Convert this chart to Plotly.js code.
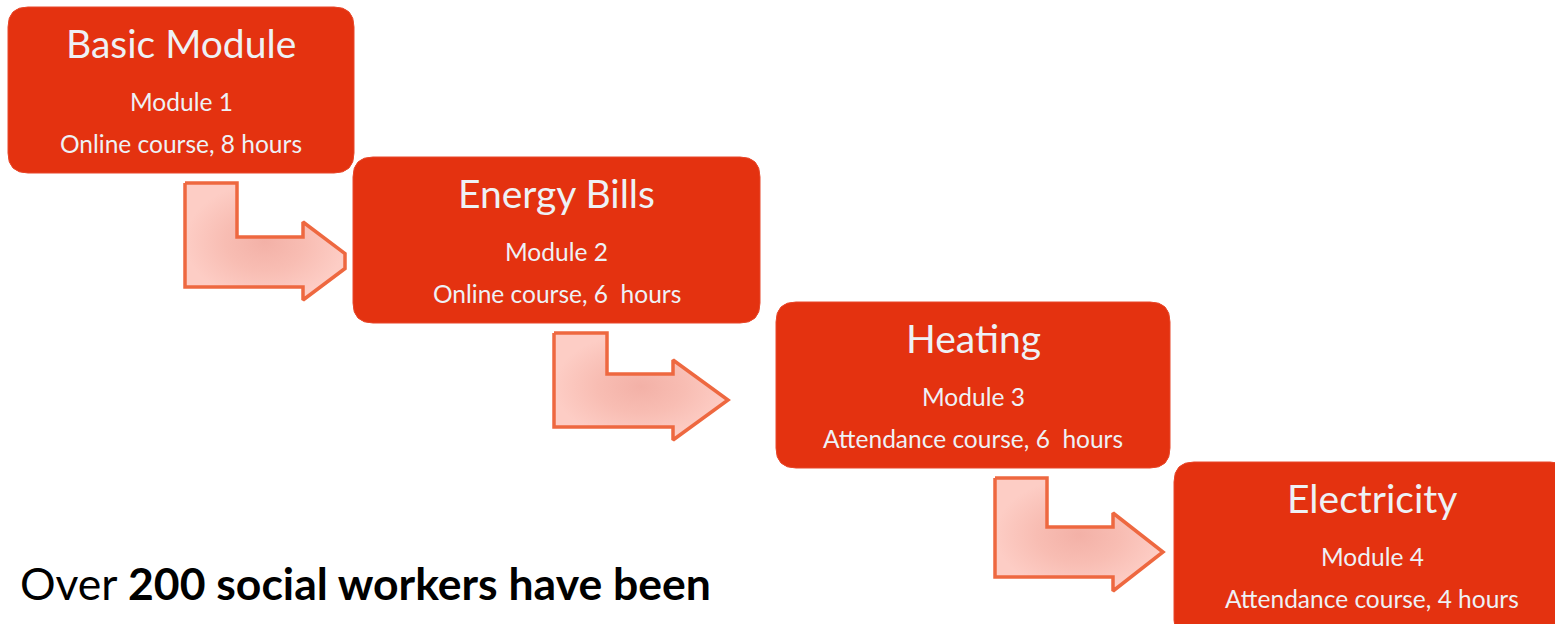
<!DOCTYPE html>
<html>
<head>
<meta charset="utf-8">
<script src="https://cdn.plot.ly/plotly-3.0.1.min.js"></script>
<style>html,body{margin:0;padding:0;background:#fff;overflow:hidden}#chart{width:1555px;height:624px}</style>
</head>
<body>
<div id="chart"></div>
<script>
// ---- content ----
const moduleTitles = ["Basic Module", "Energy Bills", "Heating", "Electricity"];
const moduleLabels = ["Module 1", "Module 2", "Module 3", "Module 4"];
const courseLabels = ["Online course, 8 hours", "Online course, 6  hours", "Attendance course, 6  hours", "Attendance course, 4 hours"];
const footerPlain = "Over ";
const footerBold = "200 social workers have been";

// ---- layout geometry (pixel space, y downward) ----
const W = 1555, H = 624;
const boxes = [
  {x0: 8,    y0: 7,   x1: 354,  y1: 173},
  {x0: 353,  y0: 157, x1: 760,  y1: 323},
  {x0: 776,  y0: 302, x1: 1170, y1: 468},
  {x0: 1174, y0: 462, x1: 1570, y1: 640}
];
const textOffsets = {title: 36, module: 94, course: 136};
const arrows = [
  [[185,183],[237,183],[237,237],[303,237],[303,222],[345,253.5],[345,268.5],[303,300],[303,287],[185,287]],
  [[554,333],[607,333],[607,374],[673,374],[673,360],[728,400],[673,440],[673,427],[554,427]],
  [[995,478],[1047,478],[1047,527],[1113,527],[1113,513],[1163,552],[1113,591],[1113,577],[995,577]]
];
const BOX_COLOR = "#e43210";
const TEXT_COLOR = "#eef1f5";
const FONT = "Lato, 'Open Sans', sans-serif";

function roundRect(b, r) {
  const {x0, y0, x1, y1} = b;
  return `M ${x0+r},${y0} L ${x1-r},${y0} Q ${x1},${y0} ${x1},${y0+r} L ${x1},${y1-r} Q ${x1},${y1} ${x1-r},${y1} ` +
         `L ${x0+r},${y1} Q ${x0},${y1} ${x0},${y1-r} L ${x0},${y0+r} Q ${x0},${y0} ${x0+r},${y0} Z`;
}

const traces = arrows.map(pts => {
  const xs = pts.map(p => p[0]); xs.push(pts[0][0]);
  const ys = pts.map(p => p[1]); ys.push(pts[0][1]);
  return {
    type: "scatter", mode: "lines", x: xs, y: ys,
    fill: "toself",
    fillgradient: {type: "radial", colorscale: [[0, "#f3b1a7"], [0.5, "#f8bdb3"], [1, "#fdcdc5"]]},
    line: {color: "#ee6840", width: 3.5},
    hoverinfo: "skip", showlegend: false
  };
});

const shapes = boxes.map(b => ({
  type: "path", xref: "x", yref: "y", path: roundRect(b, 20),
  fillcolor: BOX_COLOR, line: {color: "#e8472a", width: 1}, layer: "above"
}));

const annotations = [];
boxes.forEach((b, i) => {
  const cx = (b.x0 + b.x1) / 2;
  annotations.push({x: cx, y: b.y0 + textOffsets.title, text: moduleTitles[i], showarrow: false,
    xanchor: "center", yanchor: "middle", font: {family: FONT, size: 39, color: TEXT_COLOR}});
  annotations.push({x: cx, y: b.y0 + textOffsets.module, text: moduleLabels[i], showarrow: false,
    xanchor: "center", yanchor: "middle", font: {family: FONT, size: 24.5, color: TEXT_COLOR}});
  annotations.push({x: cx, y: b.y0 + textOffsets.course, text: courseLabels[i], showarrow: false,
    xanchor: "center", yanchor: "middle", font: {family: FONT, size: 24.5, color: TEXT_COLOR}});
});
annotations.push({x: 18, y: 582, text: footerPlain + "<b>" + footerBold + "</b>", showarrow: false,
  xanchor: "left", yanchor: "middle", font: {family: FONT, size: 44.5, color: "#000000"}});

const layout = {
  width: W, height: H,
  margin: {l: 0, r: 0, t: 0, b: 0, pad: 0},
  paper_bgcolor: "#ffffff", plot_bgcolor: "#ffffff",
  xaxis: {range: [0, W], visible: false, fixedrange: true},
  yaxis: {range: [H, 0], visible: false, fixedrange: true},
  shapes: shapes, annotations: annotations, showlegend: false
};

Plotly.newPlot("chart", traces, layout, {displayModeBar: false, staticPlot: true});
</script>
</body>
</html>
